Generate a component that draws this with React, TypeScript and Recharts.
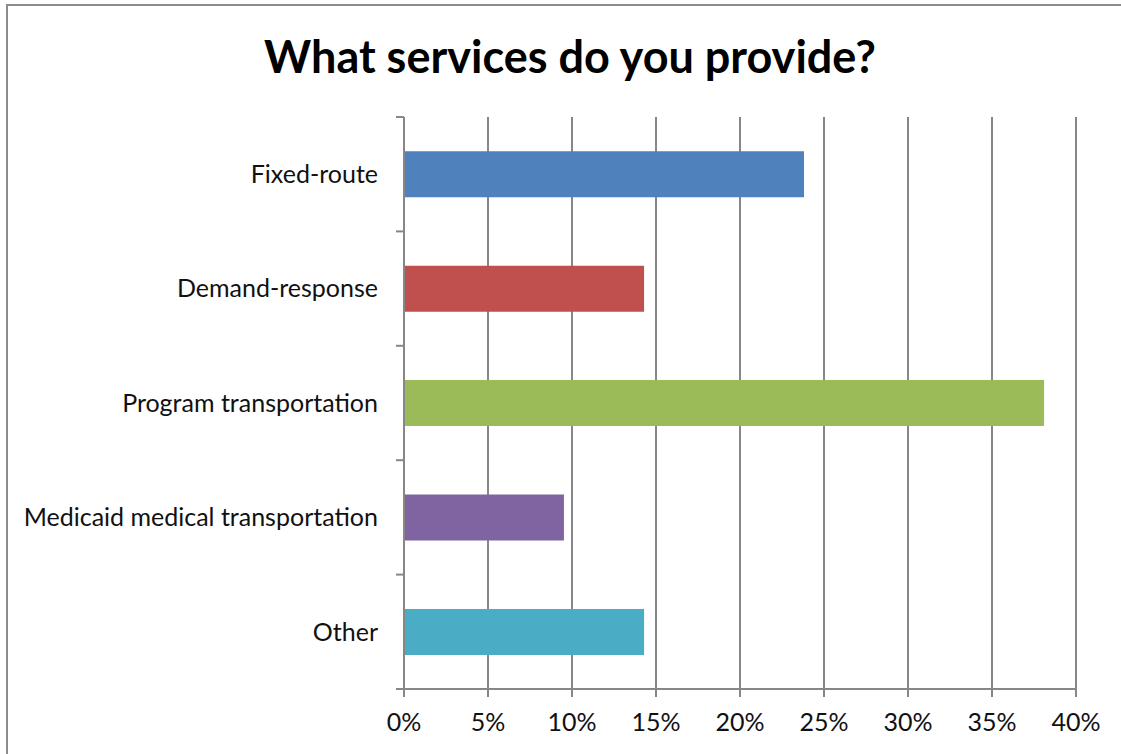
import { BarChart, Bar, XAxis, YAxis, CartesianGrid, Cell } from 'recharts';

const categories = ['Fixed-route', 'Demand-response', 'Program transportation', 'Medicaid medical transportation', 'Other'];
const shares = [23.81, 14.29, 38.1, 9.52, 14.29];
const barColors = ['#4F81BD', '#C0504D', '#9BBB59', '#8064A2', '#4BACC6'];
const xTicks = [0, 5, 10, 15, 20, 25, 30, 35, 40];

const W = 1121;
const H = 754;
const X_AXIS_H = 65;
const M = { top: 117, right: 45, bottom: 0, left: 0 };
const AXIS = '#878787';
const FONT = 'Lato, "Open Sans", sans-serif';

const rows = categories.map((name, i) => ({ name, value: shares[i] }));

// category label plus Excel-style tick marks on the band edges
const CategoryTick = (props: any) => {
    const { x, y, payload, index } = props;
    const half = (H - M.top - X_AXIS_H) / categories.length / 2;
    return (
        <g>
            <line x1={x} x2={x + 8} y1={y - half} y2={y - half} stroke={AXIS} strokeWidth={2} />
            {index === categories.length - 1 && (
                <line x1={x} x2={x + 8} y1={y + half} y2={y + half} stroke={AXIS} strokeWidth={2} />
            )}
            <text x={x - 18} y={y} dy="0.35em" textAnchor="end" fill="#111" fontSize={25} fontFamily={FONT}>
                {payload.value}
            </text>
        </g>
    );
};

export default function App() {
    return (
        <div style={{ position: 'absolute', left: 0, top: 0, width: W, height: H, overflow: 'hidden', background: '#fff' }}>
            <div style={{ position: 'absolute', left: 6, top: 4, width: W + 20, height: H + 20, border: '2px solid #8c8c8c' }} />
            <div style={{
                position: 'absolute', left: 0, top: 28, width: 1140, textAlign: 'center',
                fontFamily: FONT, fontWeight: 'bold', fontSize: 45, color: '#000', lineHeight: '56px'
            }}>
                What services do you provide?
            </div>
            <div style={{ position: 'absolute', left: 0, top: 0 }}>
                <BarChart width={W} height={H} data={rows} layout="vertical" margin={M} barCategoryGap="30%">
                    <CartesianGrid horizontal={false} stroke={AXIS} strokeWidth={2} />
                    <XAxis
                        type="number"
                        domain={[0, 40]}
                        ticks={xTicks}
                        tickFormatter={(v) => `${v}%`}
                        interval={0}
                        height={X_AXIS_H}
                        axisLine={{ stroke: AXIS, strokeWidth: 2 }}
                        tickLine={{ stroke: AXIS, strokeWidth: 2 }}
                        tickSize={8}
                        tickMargin={16}
                        tick={{ fill: '#111', fontSize: 25, fontFamily: FONT }}
                    />
                    <YAxis
                        type="category"
                        dataKey="name"
                        width={404}
                        axisLine={{ stroke: AXIS, strokeWidth: 2 }}
                        tickLine={false}
                        tick={<CategoryTick />}
                        interval={0}
                    />
                    <Bar dataKey="value" isAnimationActive={false}>
                        {rows.map((r, i) => (
                            <Cell key={r.name} fill={barColors[i]} />
                        ))}
                    </Bar>
                </BarChart>
            </div>
        </div>
    );
}
